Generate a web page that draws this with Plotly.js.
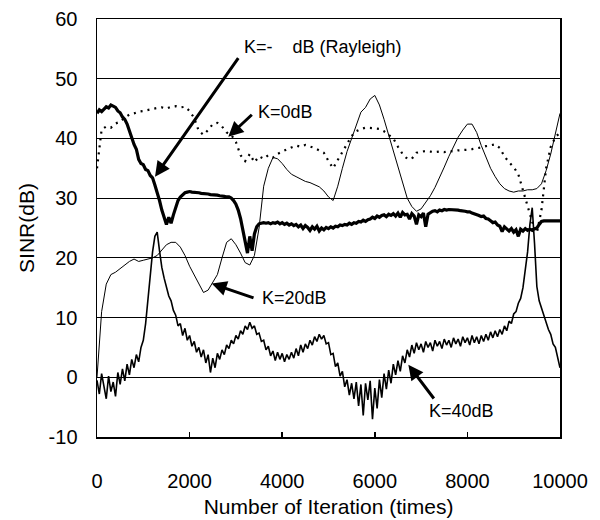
<!DOCTYPE html>
<html><head><meta charset="utf-8">
<script src="https://cdn.plot.ly/plotly-3.0.1.min.js"></script>
<style>body{margin:0;background:#fff}#chart{width:600px;height:520px}</style>
</head><body><div id="chart"></div>
<script>
// SINR (dB) sampled every 50 iterations, K = -inf dB (Rayleigh)
const rayleighSINR = [
 44.2, 44.8, 44.5, 45.0, 45.3, 45.1, 45.6, 45.4, 45.2, 44.6,
 44.3, 43.6, 43.2, 42.4, 41.2, 39.8, 39.0, 38.2, 36.5, 35.8,
 35.6, 34.8, 34.6, 33.8, 33.4, 32.2, 31.0, 29.6, 28.0, 26.6,
 25.6, 26.8, 25.8, 27.2, 28.6, 29.6, 30.2, 30.6, 30.9, 31.0,
 31.1, 31.0, 31.0, 30.9, 30.9, 30.8, 30.8, 30.7, 30.7, 30.6,
 30.6, 30.5, 30.5, 30.4, 30.4, 30.3, 30.2, 30.2, 30.0, 29.6,
 29.0, 28.0, 26.6, 24.6, 22.4, 20.8, 23.6, 21.2, 24.0, 25.2,
 25.7, 25.8, 25.9, 25.8, 25.9, 25.7, 25.9, 25.8, 26.0, 25.7,
 25.9, 25.6, 25.8, 25.5, 25.7, 25.4, 25.6, 25.2, 25.5, 24.9,
 25.4, 25.1, 24.6, 25.2, 24.8, 25.3, 24.5, 25.0, 24.7, 25.1,
 24.9, 25.2, 25.0, 25.3, 25.2, 25.5, 25.4, 25.6, 25.5, 25.8,
 25.6, 25.9, 25.8, 26.1, 26.0, 26.3, 26.1, 26.4, 26.5, 26.8,
 26.6, 27.0, 26.8, 27.1, 27.2, 26.9, 27.3, 27.1, 27.4, 27.0,
 27.5, 26.8, 27.6, 27.2, 27.3, 26.5, 27.4, 27.0, 25.6, 27.2,
 26.9, 27.5, 25.2, 27.3, 27.6, 27.8, 27.9, 27.7, 28.0, 27.9,
 28.1, 28.0, 28.1, 28.1, 28.0, 28.1, 28.0, 27.9, 27.9, 27.8,
 27.7, 27.7, 27.5, 27.4, 27.3, 27.1, 26.9, 27.0, 26.6, 26.5,
 26.2, 25.9, 26.0, 25.5, 25.3, 24.4, 25.2, 24.8, 24.5, 24.9,
 24.3, 24.7, 23.6, 24.8, 24.5, 24.9, 24.6, 24.8, 24.6, 24.9,
 25.0, 25.6, 26.1, 26.2, 26.2, 26.2, 26.2, 26.2, 26.2, 26.2,
 26.2
];
// K = 0 dB, sampled every 100 iterations
const k0SINR = [
 35.0, 41.5, 42.0, 41.8, 42.5, 42.8, 43.5, 44.0, 44.2, 44.5,
 44.6, 44.8, 45.0, 45.1, 45.2, 45.0, 45.3, 45.4, 45.2, 45.3,
 44.6, 43.4, 41.2, 40.6, 41.4, 42.4, 42.6, 42.0, 41.0, 40.6,
 39.4, 37.2, 36.2, 37.4, 36.0, 37.0, 36.6, 37.2, 36.8, 37.4,
 37.8, 38.2, 38.5, 38.8, 38.6, 38.9, 38.7, 38.4, 38.0, 37.6,
 36.2, 35.0, 36.4, 37.8, 39.2, 40.4, 41.2, 41.6, 41.8, 41.8,
 41.7, 41.6, 41.2, 40.6, 40.0, 38.6, 37.4, 36.6, 36.6, 37.6,
 37.8, 37.9, 37.8, 37.7, 37.8, 37.7, 37.9, 37.8, 38.0, 38.0,
 38.1, 38.2, 38.3, 38.5, 38.7, 38.9, 39.0, 38.4, 37.0, 36.0,
 35.2, 34.0, 31.4, 29.0, 26.0, 24.2, 28.0, 35.0, 38.6, 40.2,
 41.0
];
// K = 20 dB, sampled every 100 iterations
const k20SINR = [
 0.0, 11.0, 15.6, 17.2, 17.6, 18.2, 18.8, 19.4, 19.8, 19.4,
 19.6, 19.8, 20.0, 20.4, 21.4, 22.2, 22.6, 22.6, 21.8, 20.4,
 18.6, 17.2, 15.6, 14.2, 14.6, 15.8, 17.2, 20.0, 22.6, 23.2,
 22.2, 20.8, 19.2, 18.8, 20.4, 25.0, 32.0, 35.0, 36.8, 36.6,
 35.8, 34.8, 34.0, 33.6, 33.2, 32.8, 32.6, 32.2, 31.9, 31.2,
 30.2, 29.6, 32.0, 35.0, 37.8, 40.0, 42.4, 44.4, 45.2, 46.6,
 47.2, 45.6, 43.2, 40.6, 37.6, 35.0, 32.6, 30.0, 28.6, 27.8,
 28.2, 29.2, 30.4, 31.8, 33.4, 35.2, 37.0, 38.6, 40.2, 41.4,
 42.4, 42.4, 41.0, 38.8, 36.8, 35.0, 33.6, 32.4, 31.6, 31.2,
 31.0, 31.2, 31.2, 31.4, 31.4, 31.6, 32.4, 34.6, 37.4, 40.6,
 44.2
];
// K = 40 dB, sampled every 50 iterations
const k40SINR = [
 -0.5, -2.8, 0.6, -1.9, -3.6, 0.2, -2.4, -0.8, -3.2, 0.8,
 -1.2, 1.4, -0.6, 2.2, 0.4, 3.0, 1.6, 3.8, 2.6, 5.0,
 6.2, 9.0, 13.0, 17.2, 21.0, 23.6, 24.3, 21.2, 18.4, 16.6,
 15.0, 13.6, 12.8, 11.2, 10.4, 8.6, 9.0, 7.0, 8.2, 6.2,
 7.0, 5.2, 6.0, 4.2, 5.0, 3.4, 4.6, 2.4, 3.8, 0.8,
 3.2, 1.6, 4.0, 3.0, 4.6, 3.8, 5.4, 4.8, 6.2, 5.6,
 7.0, 6.4, 7.8, 7.2, 8.6, 8.0, 9.2, 8.2, 8.6, 7.2,
 7.4, 6.0, 6.2, 4.6, 5.2, 3.6, 4.4, 2.8, 4.2, 3.0,
 4.0, 2.6, 3.8, 3.0, 4.2, 3.2, 4.8, 3.6, 5.4, 4.2,
 5.6, 4.8, 6.2, 5.4, 6.8, 6.0, 7.2, 6.4, 7.0, 5.6,
 5.8, 3.8, 4.0, 1.8, 2.4, 0.2, 1.0, -1.6, -0.4, -3.0,
 -1.0, -3.6, -0.8, -4.8, -1.2, -6.4, -1.0, -3.8, -0.6, -7.0,
 -1.8, -5.2, -0.4, -3.4, 0.6, -2.0, 1.2, -1.0, 2.2, 0.4,
 2.8, 1.0, 3.6, 2.4, 4.6, 3.4, 5.4, 4.0, 5.8, 4.6,
 5.6, 4.2, 6.0, 5.0, 5.8, 4.4, 6.2, 5.2, 6.0, 4.8,
 6.4, 5.4, 6.2, 5.0, 6.6, 5.6, 6.4, 5.2, 6.8, 5.8,
 6.6, 5.4, 7.0, 5.8, 6.8, 5.6, 7.0, 6.0, 7.2, 6.2,
 7.6, 6.6, 7.8, 6.8, 8.0, 7.2, 8.6, 7.8, 9.4, 9.0,
 10.6, 11.0, 12.4, 13.2, 15.0, 17.6, 21.0, 25.6, 28.4, 22.4,
 15.2, 12.8, 11.6, 10.4, 9.6, 8.0, 7.2, 5.6, 5.0, 3.2,
 1.6
];
const xTickVals = [0, 2000, 4000, 6000, 8000, 10000];
const xTickText = ['0', '2000', '4000', '6000', '8000', '10000'];
const yTickVals = [-10, 0, 10, 20, 30, 40, 50, 60];
const yTickText = ['-10', '0', '10', '20', '30', '40', '50', '60'];
const labelRayleigh = 'K=-    dB (Rayleigh)';
const label0 = 'K=0dB';
const label20 = 'K=20dB';
const label40 = 'K=40dB';

const traces = [
  {x0: 0, dx: 100, y: k0SINR, type: 'scatter', mode: 'lines', name: label0,
   line: {color: '#000', width: 2.2, dash: '2px,5px'}},
  {x0: 0, dx: 100, y: k20SINR, type: 'scatter', mode: 'lines', name: label20,
   line: {color: '#000', width: 1}},
  {x0: 0, dx: 50, y: k40SINR, type: 'scatter', mode: 'lines', name: label40,
   line: {color: '#000', width: 1.6}},
  {x0: 0, dx: 50, y: rayleighSINR, type: 'scatter', mode: 'lines', name: labelRayleigh,
   line: {color: '#000', width: 3.2}}
];

const fontFam = '"Liberation Sans", Arial, sans-serif';
function arrow(hx, hy, tx, ty) {
  return {x: hx, y: hy, ax: tx, ay: ty, xref: 'x', yref: 'y', axref: 'x', ayref: 'y',
    text: '', showarrow: true, arrowhead: 2, arrowsize: 1, arrowwidth: 3,
    arrowcolor: '#000', standoff: 0, startstandoff: 0};
}
function label(t, x, y) {
  return {x: x, y: y, xref: 'x', yref: 'y', text: t, showarrow: false,
    xanchor: 'left', yanchor: 'middle', font: {size: 18, color: '#000', family: fontFam}};
}

const layout = {
  width: 600, height: 520,
  margin: {l: 97, r: 40, t: 19, b: 83},
  paper_bgcolor: '#fff', plot_bgcolor: '#fff',
  showlegend: false,
  font: {family: fontFam, color: '#000', size: 20},
  xaxis: {
    range: [0, 10000], tickmode: 'array', tickvals: xTickVals, ticktext: xTickText,
    ticks: 'inside', ticklen: 5, tickwidth: 1.5, tickcolor: '#000',
    showline: true, linecolor: '#000', linewidth: 1.5, mirror: true,
    showgrid: false, zeroline: false,
    tickfont: {size: 20}, ticklabelstandoff: 25,
    title: {text: 'Number of Iteration (times)', font: {size: 21}, standoff: 9}
  },
  yaxis: {
    range: [-10, 60], tickmode: 'array', tickvals: yTickVals, ticktext: yTickText,
    ticks: '', showline: true, linecolor: '#000', linewidth: 1.5, mirror: true,
    showgrid: true, gridcolor: '#000', gridwidth: 1, zeroline: false,
    tickfont: {size: 20}, ticklabelstandoff: 14,
    title: {text: 'SINR(dB)', font: {size: 21}, standoff: 8}
  },
  annotations: [
    arrow(1253, 33.6, 3074, 53.7),
    arrow(2836, 40.3, 3376, 44.2),
    arrow(2477, 15.7, 3413, 13.2),
    arrow(6724, 2.1, 7300, -3.8),
    label(labelRayleigh, 3132, 55.3),
    label(label0, 3434, 44.4),
    label(label20, 3521, 13.3),
    label(label40, 7127, -5.6)
  ]
};

Plotly.newPlot('chart', traces, layout, {staticPlot: true, displayModeBar: false});
</script>
</body></html>
